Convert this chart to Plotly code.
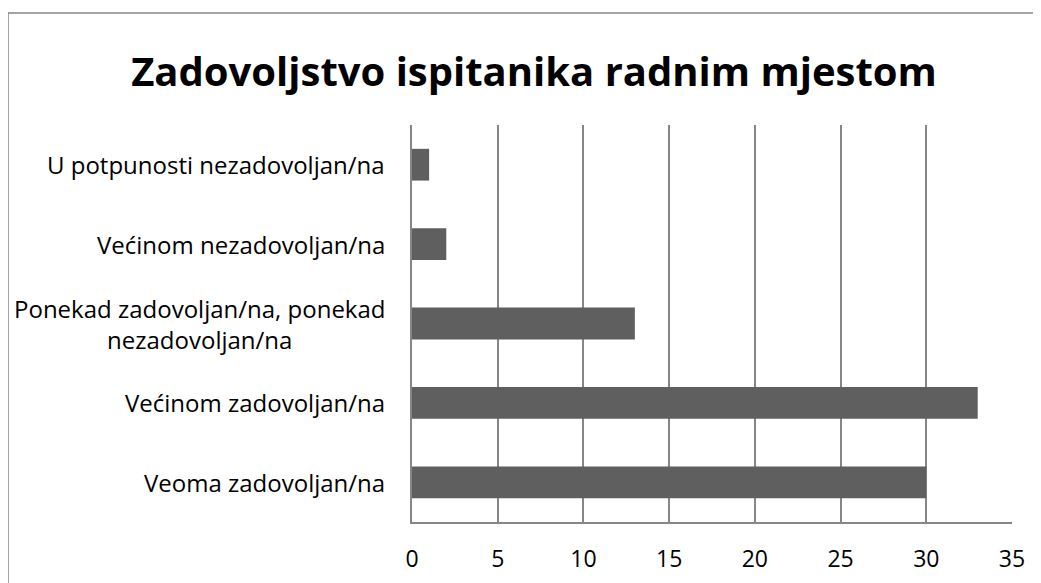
import plotly.graph_objects as go

categories = [
    "Veoma zadovoljan/na",
    "Većinom zadovoljan/na",
    "Ponekad zadovoljan/na, ponekad<br>nezadovoljan/na",
    "Većinom nezadovoljan/na",
    "U potpunosti nezadovoljan/na",
]
values = [30, 33, 13, 2, 1]
x_ticks = [0, 5, 10, 15, 20, 25, 30, 35]
title_text = "Zadovoljstvo ispitanika radnim mjestom"

OFF = 8  # page body margin
W, H = 1041, 583
L = 412 - OFF
T = 125 - OFF
plot_right = 1012 - OFF
plot_bottom = 522 - OFF
R = W - plot_right
B = H - plot_bottom
pw, ph = W - L - R, H - T - B
FONT = "Open Sans, Segoe UI, sans-serif"
GRID = "#868686"

fig = go.Figure(go.Bar(
    x=values, y=categories, orientation="h",
    marker=dict(color="#5f5f5f", line=dict(width=0)),
    hoverinfo="x+y",
))

annotations = []
for c in categories:
    annotations.append(dict(
        x=-25 / pw, xref="paper", y=c, yref="y", text=c,
        xanchor="right", yanchor="middle", align="center", showarrow=False,
        font=dict(family=FONT, size=24, color="#000000"),
    ))

def px_x(p):
    return (p - OFF - L) / pw

def px_y(p):
    return (plot_bottom - (p - OFF)) / ph

fig.update_layout(
    width=W, height=H,
    margin=dict(l=L, r=R, t=T, b=B),
    paper_bgcolor="#ffffff", plot_bgcolor="#ffffff",
    title=dict(text="<b>" + title_text + "</b>", x=(534 - OFF) / W, xanchor="center",
               y=1 - (72 - OFF) / H, yanchor="middle",
               font=dict(family=FONT, size=40, color="#000000")),
    bargap=0.6,
    showlegend=False,
    xaxis=dict(range=[0, 35], tickvals=x_ticks, showgrid=True, gridcolor=GRID, gridwidth=1.5,
               showline=True, linecolor=GRID, linewidth=1.5, zeroline=False,
               ticks="", ticklabelstandoff=16,
               tickfont=dict(family=FONT, size=23, color="#000000"), fixedrange=True),
    yaxis=dict(categoryorder="array", categoryarray=categories, showticklabels=False,
               showgrid=False, showline=True, linecolor=GRID, linewidth=1.5,
               zeroline=False, ticks="", fixedrange=True),
    annotations=annotations,
    shapes=[dict(type="rect", xref="paper", yref="paper",
                 x0=px_x(8), x1=px_x(1060), y0=px_y(610), y1=px_y(13),
                 line=dict(color=GRID, width=1.5), fillcolor="rgba(0,0,0,0)", layer="below")],
)

fig.write_html("out.html")
